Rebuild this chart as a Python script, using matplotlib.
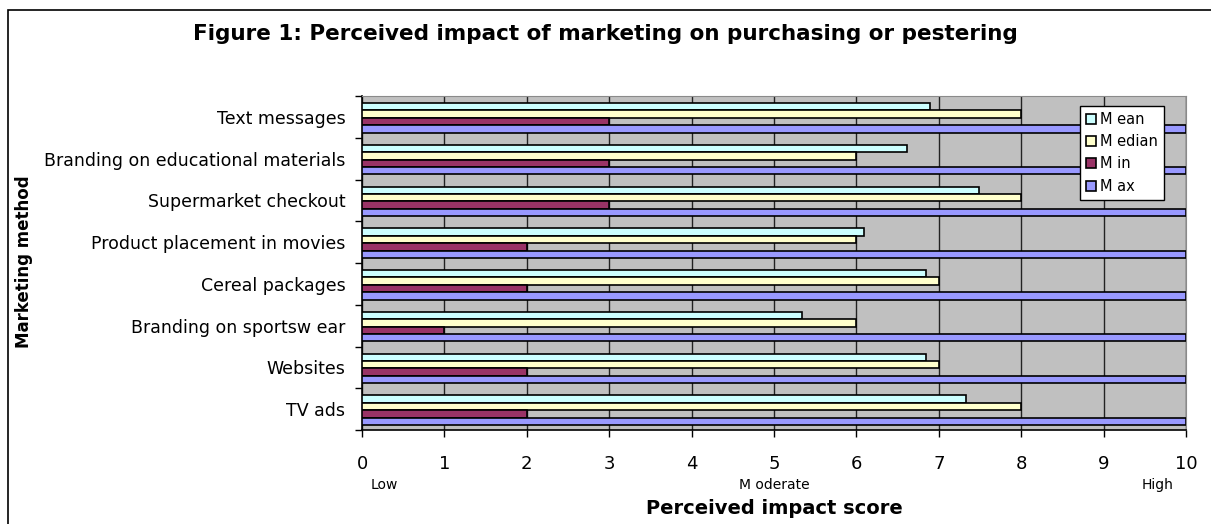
import numpy as np
import matplotlib.pyplot as plt
from matplotlib.patches import Rectangle

plt.rcParams['font.family'] = ['DejaVu Sans']

# categories listed bottom to top, as on the axis
methods = ['TV ads', 'Websites', 'Branding on sportsw ear', 'Cereal packages',
           'Product placement in movies', 'Supermarket checkout',
           'Branding on educational materials', 'Text messages']
mean   = [7.33, 6.85, 5.34, 6.85, 6.09, 7.49, 6.62, 6.89]
median = [8, 7, 6, 7, 6, 8, 6, 8]
min_   = [2, 2, 1, 2, 2, 3, 3, 3]
max_   = [10, 10, 10, 10, 10, 10, 10, 10]
scale_words = [(0.27, 'Low'), (5.0, 'M oderate'), (9.65, 'High')]

series = [('M ean', mean, '#CCFFFF'),
          ('M edian', median, '#FFFFCC'),
          ('M in', min_, '#993366'),
          ('M ax', max_, '#9999FF')]

W, H = 1211, 524
fig = plt.figure(figsize=(W / 100, H / 100), dpi=100)
# outer chart frame, runs off the right and bottom edges
fig.patches.append(Rectangle((8 / W, -0.1), 1.2, 1.1 - 10 / H, transform=fig.transFigure,
                             fill=False, edgecolor='black', linewidth=1.2))

ax = fig.add_axes([362 / W, 1 - 430 / H, 824 / W, 334 / H])
ax.set_facecolor('#C0C0C0')

y = np.arange(len(methods))
h = 0.178
for i, (name, vals, col) in enumerate(series):
    # first series sits at the top of each group
    off = (1.5 - i) * h - 0.024
    ax.barh(y + off, vals, height=h, color=col, edgecolor='black',
            linewidth=1.2, label=name, zorder=3)

ax.set_xlim(0, 10)
ax.set_ylim(-0.5, len(methods) - 0.5)
ax.set_xticks(range(11))
ax.tick_params(axis='x', length=5, width=1, labelsize=13, pad=13)
ax.xaxis.grid(True, color='#222222', linewidth=1, zorder=1)
ax.set_axisbelow(True)

ax.set_yticks(y)
ax.set_yticklabels(methods, fontsize=12.5)
ax.set_yticks(np.arange(-0.5, len(methods), 1), minor=True)
ax.tick_params(axis='y', which='major', length=0, pad=12)
ax.tick_params(axis='y', which='minor', length=5, width=1)

for s in ['top', 'right']:
    ax.spines[s].set_color('#8a8a8a')
for s in ['left', 'bottom']:
    ax.spines[s].set_linewidth(1.2)

fig.text(605 / W, 1 - 39.5 / H,
         'Figure 1: Perceived impact of marketing on purchasing or pestering',
         ha='center', va='baseline', fontsize=15.5, fontweight='bold')

ax.set_ylabel('Marketing method', fontsize=12, fontweight='bold')
ax.yaxis.set_label_coords(-0.3987, 0.503)
ax.set_xlabel('Perceived impact score', fontsize=14, fontweight='bold')
ax.xaxis.label.set_va('baseline')
ax.xaxis.set_label_coords(0.5, -0.25)

for xv, lab in scale_words:
    ax.text(xv, -0.178, lab, transform=ax.get_xaxis_transform(), ha='center',
            va='baseline', fontsize=10)

ax.legend(loc='upper right', bbox_to_anchor=(0.9733, 0.970), frameon=True, fancybox=False,
          edgecolor='black', fontsize=10.5, handlelength=0.7, handleheight=0.7,
          handletextpad=0.3, labelspacing=0.5, borderpad=0.4, borderaxespad=0,
          framealpha=1)

fig.savefig('out.png', dpi=100)
